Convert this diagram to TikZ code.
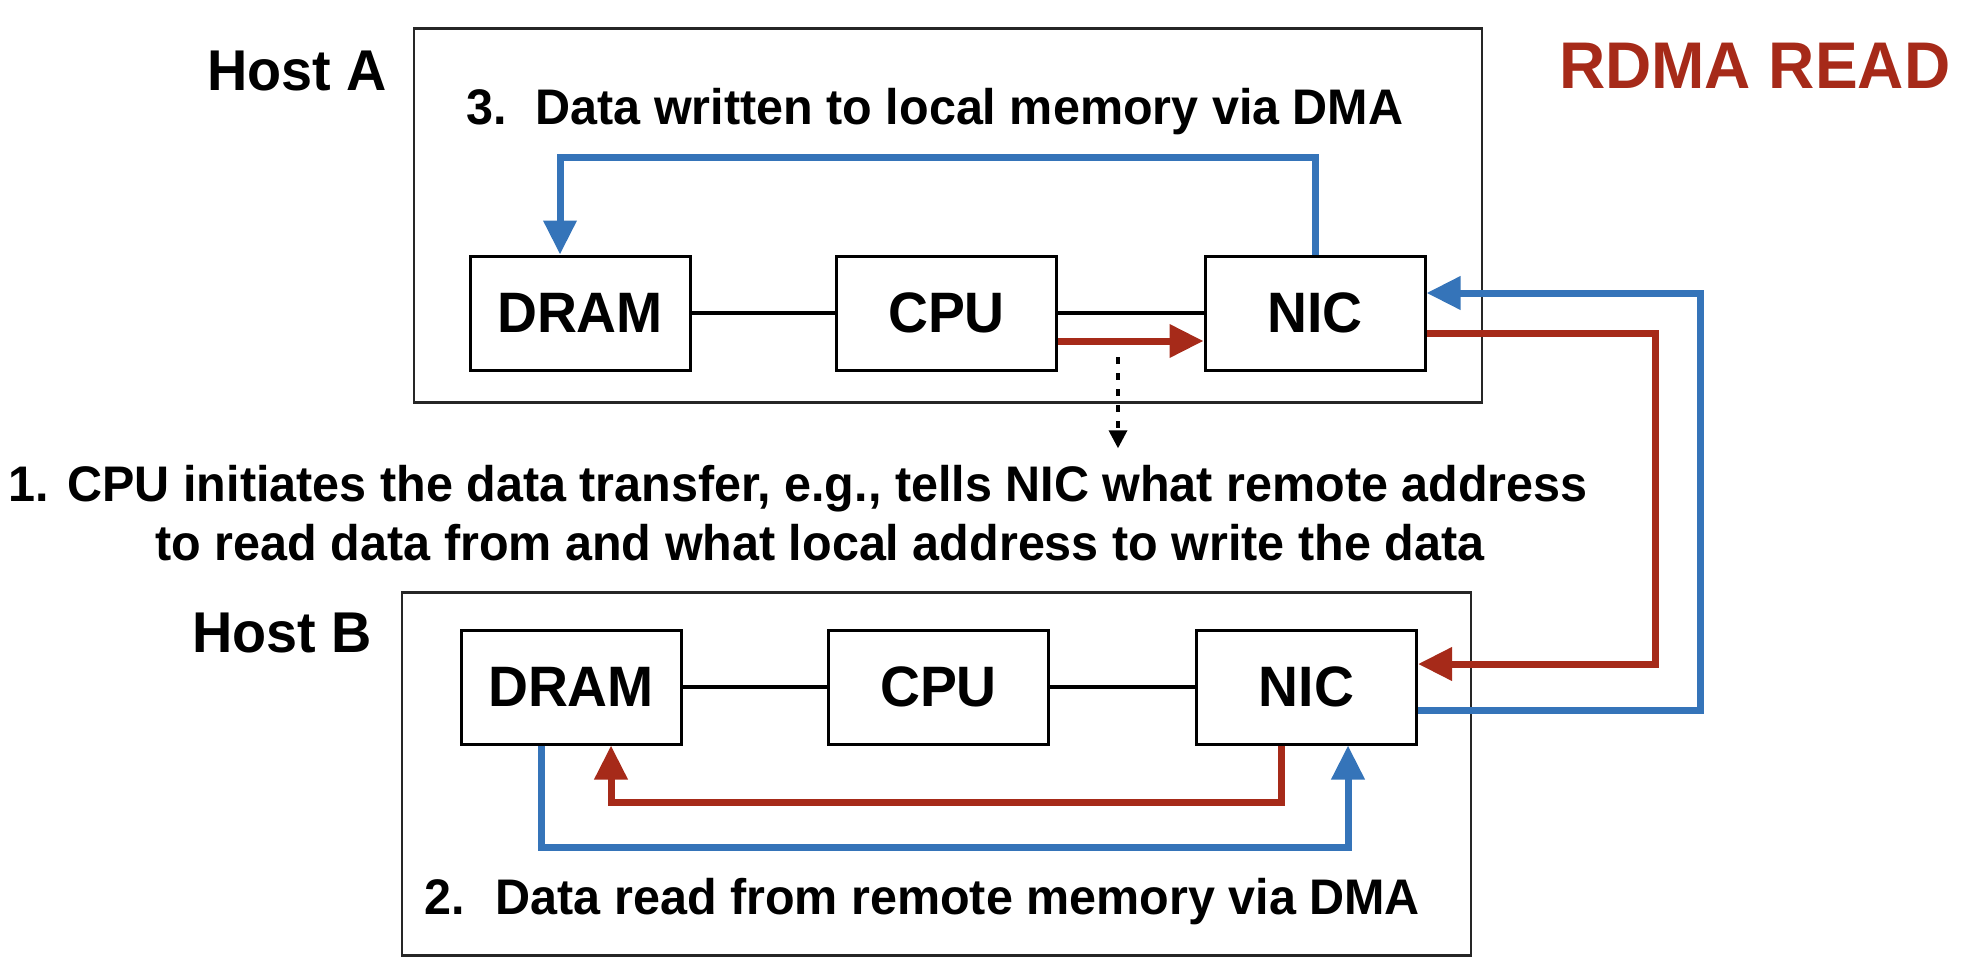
\documentclass[tikz,border=0pt]{standalone}
\usepackage{fontspec}
\setmainfont{Liberation Sans}[FakeStretch=0.97]
\usetikzlibrary{arrows.meta}
\definecolor{rblue}{RGB}{53,116,185}
\definecolor{rred}{RGB}{166,42,25}
\begin{document}
\begin{tikzpicture}[x=1pt,y=-1pt,
  comp/.style={draw=black, line width=3pt, minimum width=220pt, minimum height=114pt, inner sep=0pt, font=\bfseries\fontsize{57}{60}\selectfont},
  host/.style={draw=black!85, line width=2.6pt, inner sep=0pt},
  lbl/.style={inner sep=0pt, anchor=base west, font=\bfseries\fontsize{57.5}{60}\selectfont},
  captxt/.style={inner sep=0pt, anchor=base west, font=\bfseries\fontsize{50}{58}\selectfont},
  bus/.style={line width=3.7pt},
  bflow/.style={draw=rblue, line width=7pt, -{Triangle[width=32pt,length=34pt]}},
  rflow/.style={draw=rred, line width=7pt, -{Triangle[width=32pt,length=34pt]}},
  hint/.style={line width=3.5pt, dash pattern=on 7pt off 9pt, -{Triangle[width=18pt,length=18pt]}},
]
\useasboundingbox (0,0) rectangle (1964,960);

% host frames
\node[host, minimum width=1068pt, minimum height=374pt] (hostA) at (948,215.3) {};
\node[host, minimum width=1069pt, minimum height=363pt] (hostB) at (936.3,774) {};

% components
\node[comp] (dramA) at (580,313) {DRAM};
\node[comp] (cpuA) at (946.5,313) {CPU};
\node[comp] (nicA) at (1315,313) {NIC};
\node[comp] (dramB) at (571,687) {DRAM};
\node[comp] (cpuB) at (938.5,687) {CPU};
\node[comp] (nicB) at (1306.5,687) {NIC};

% labels
\node[lbl] (hA) at (207,90.7) {Host A};
\node[lbl] (hB) at (192,652.3) {Host B};
\node[lbl, text=rred, font=\bfseries\fontsize{66}{70}\selectfont] (title) at (1559,89) {RDMA READ};

\node[captxt] (c3) at (466,125) {3.\hspace{29pt}Data written to local memory via DMA};
\node[captxt] (c1a) at (8,501.7) {1.\hspace{19pt}CPU initiates the data transfer, e.g., tells NIC what remote address};
\node[captxt] (c1b) at (155.5,560) {to read data from and what local address to write the data};
\node[captxt] (c2) at (424,914) {2.\hspace{31pt}Data read from remote memory via DMA};

% buses
\draw[bus] (dramA) -- (cpuA);
\draw[bus] (cpuA) -- (nicA);
\draw[bus] (dramB) -- (cpuB);
\draw[bus] (cpuB) -- (nicB);

% flows in host A
\draw[rflow] ([yshift=-28pt]cpuA.east) -- ([yshift=-28pt]nicA.west);
\draw[bflow] (nicA.north) -- ++(0,-97) -| ([xshift=-20pt]dramA.north);

% network flows
\coordinate (rR) at (1655,500);
\coordinate (bR) at (1700,500);
\coordinate (nAout) at ([yshift=-20pt]nicA.east);
\coordinate (nAin) at ([yshift=20pt]nicA.east);
\coordinate (nBin) at ([yshift=23pt]nicB.east);
\coordinate (nBout) at ([yshift=-23pt]nicB.east);
\draw[rflow] (nAout) -| (rR) |- (nBin);
\draw[bflow] (nBout) -| (bR) |- (nAin);

% flows in host B
\draw[rflow] ([xshift=-25.5pt]nicB.south) -- ++(0,57) -| ([xshift=40pt]dramB.south);
\draw[bflow] ([xshift=-30pt]dramB.south) -- ++(0,102) -| ([xshift=41.5pt]nicB.south);

% initiation hint
\coordinate (dS) at (1118,357);
\coordinate (dE) at (1118,448.3);
\draw[hint] (dS) -- (dE);
\end{tikzpicture}
\end{document}
